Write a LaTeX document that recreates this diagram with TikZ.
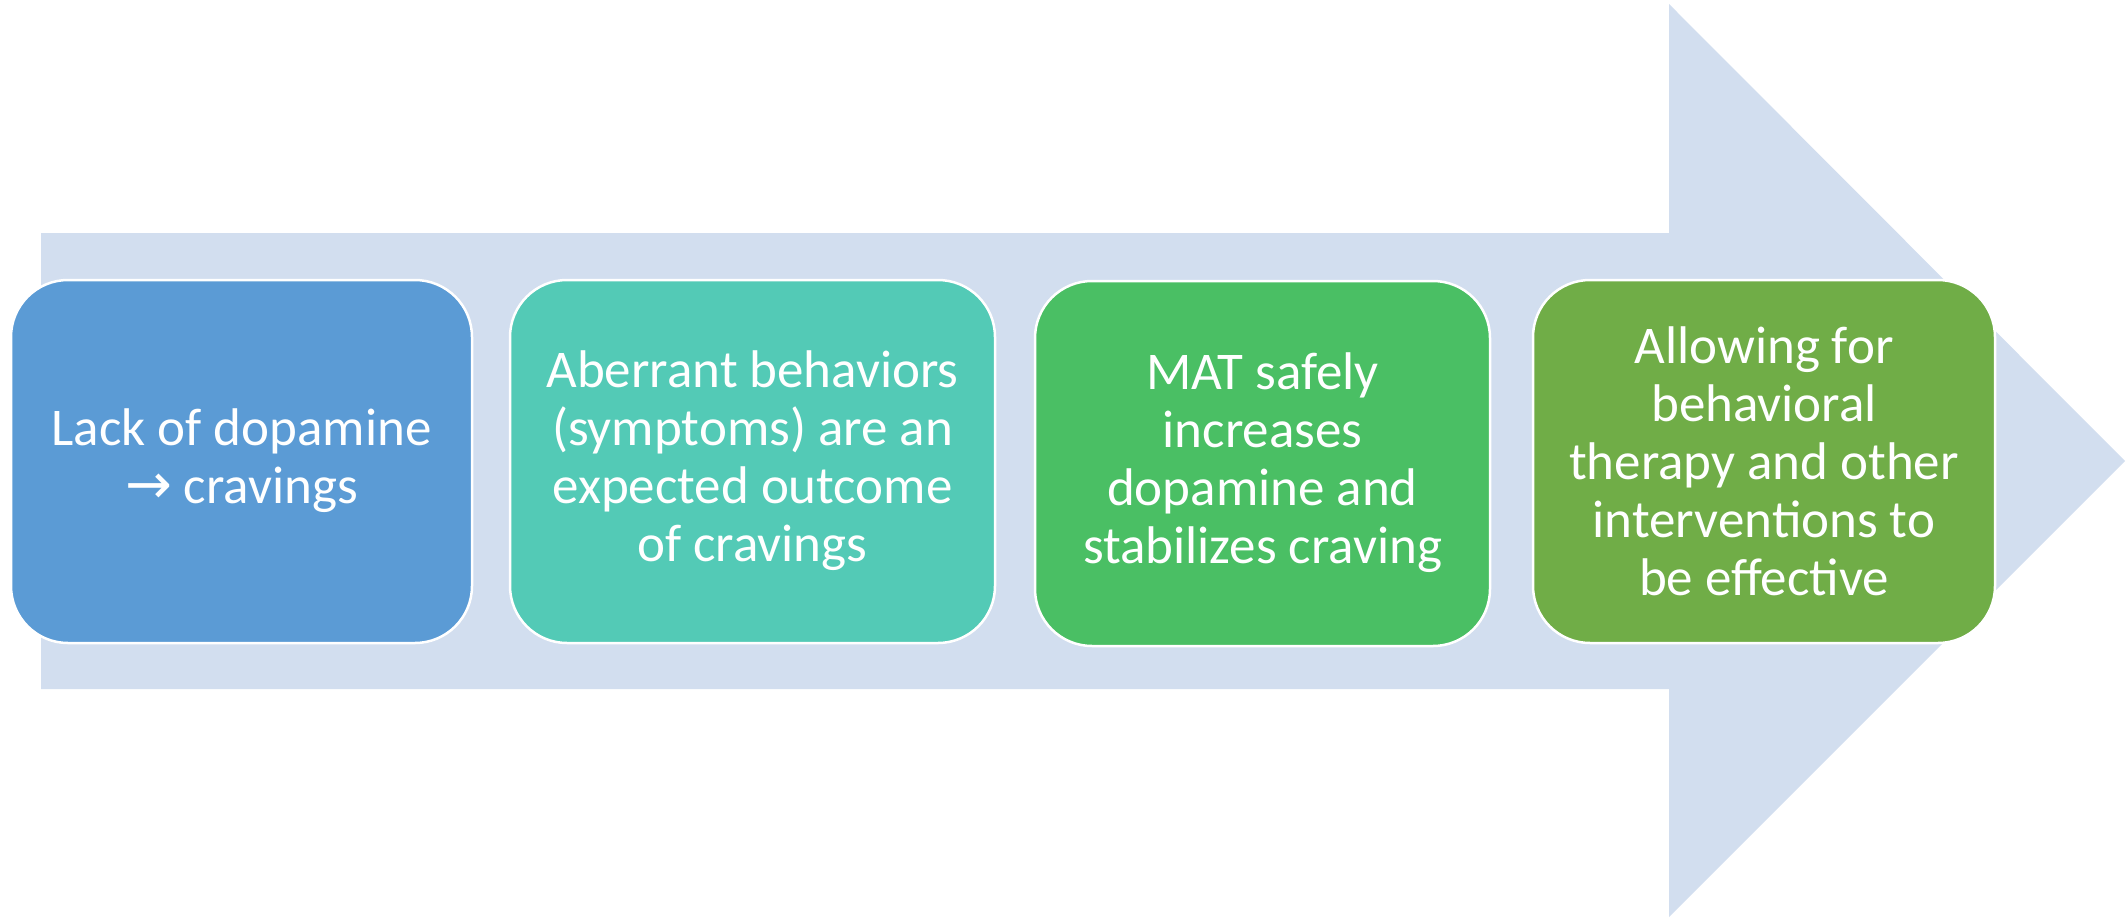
\documentclass[tikz,border=0pt]{standalone}
\usepackage{fontspec}
\setmainfont{Carlito}
\newfontfamily\djv{DejaVu Sans}
\definecolor{arrowbg}{HTML}{D2DEEF}
\definecolor{cA}{HTML}{5B9BD5}
\definecolor{cB}{HTML}{53CAB6}
\definecolor{cC}{HTML}{4ABF64}
\definecolor{cD}{HTML}{70AD47}
\tikzset{
  card/.style={draw=white, line width=2.5pt, rounded corners=57pt},
  cardtext/.style={text=white, align=center, font=\fontsize{53}{58}\selectfont, inner sep=0pt}
}
\begin{document}
\begin{tikzpicture}[x=1pt,y=-1pt]
\useasboundingbox (0,0) rectangle (2128,919);
\fill[arrowbg] (41,233) -- (1669,233) -- (1669,4) -- (2125,461) -- (1669,917) -- (1669,689) -- (41,689) -- cycle;
\path[card, fill=cA] (11,280) rectangle (472,643);
\node[cardtext] (a) at (241.5,461) {Lack of dopamine\\{\djv\fontsize{56}{58}\selectfont →} cravings};
\path[card, fill=cB] (510,280) rectangle (995,643);
\node[cardtext] (b) at (752.5,461) {Aberrant behaviors\\(symptoms) are an\\expected outcome\\of cravings};
\path[card, fill=cC] (1035,281) rectangle (1490,646);
\node[cardtext] (c) at (1262.5,463) {MAT safely\\increases\\dopamine and\\stabilizes craving};
\path[card, fill=cD] (1533,280) rectangle (1995,643);
\node[cardtext] (d) at (1764,461) {Allowing for\\behavioral\\therapy and other\\interventions to\\be effective};
\end{tikzpicture}
\end{document}
